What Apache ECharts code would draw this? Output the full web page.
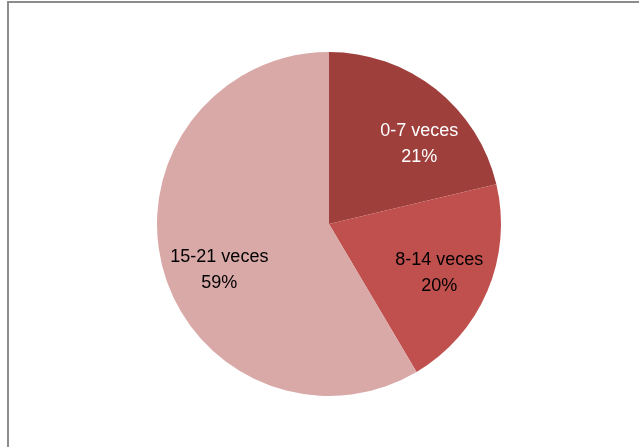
<!DOCTYPE html>
<html>
<head>
<meta charset="utf-8">
<script src="https://cdn.jsdelivr.net/npm/echarts@6/dist/echarts.min.js"></script>
<style>
html, body { margin: 0; padding: 0; background: #fff; }
#main { width: 639px; height: 447px; }
</style>
</head>
<body>
<div id="main"></div>
<script>
var categories = ['0-7 veces', '8-14 veces', '15-21 veces'];
var values = [21.3, 20.2, 58.5];
var colors = ['#9e3f3c', '#c0504d', '#d9a9a8'];
var labelColors = ['#ffffff', '#000000', '#000000'];
// 标签微调偏移
var labelShift = [[14, 17], [-3, 1], [9, 14]];

var pieData = categories.map(function (name, i) {
	return { name: name, value: values[i], itemStyle: { color: colors[i] } };
});
var labelData = categories.map(function (name, i) {
	return {
		name: name,
		value: values[i],
		label: { color: labelColors[i] }
	};
});

var myChart = echarts.init(document.getElementById('main'));

myChart.setOption({
	animation: false,
	graphic: [{
		type: 'rect',
		shape: { x: 8, y: 2, width: 700, height: 500 },
		style: { fill: 'none', stroke: '#8c8c8c', lineWidth: 2 }
	}],
	series: [{
		// 饼图本体
		type: 'pie',
		center: [329, 224],
		radius: [0, 172],
		startAngle: 90,
		clockwise: true,
		silent: true,
		label: { show: false },
		labelLine: { show: false },
		data: pieData
	}, {
		// 标签层（透明）
		type: 'pie',
		center: [329, 224],
		radius: [68, 172],
		startAngle: 90,
		clockwise: true,
		silent: true,
		percentPrecision: 0,
		itemStyle: { color: 'rgba(0,0,0,0)' },
		label: {
			show: true,
			position: 'inside',
			fontFamily: 'Liberation Sans',
			fontSize: 18,
			lineHeight: 26,
			formatter: '{b}\n{d}%'
		},
		labelLayout: function (params) {
			var s = labelShift[params.dataIndex];
			return { dx: s[0], dy: s[1] };
		},
		labelLine: { show: false },
		data: labelData
	}]
});
</script>
</body>
</html>
